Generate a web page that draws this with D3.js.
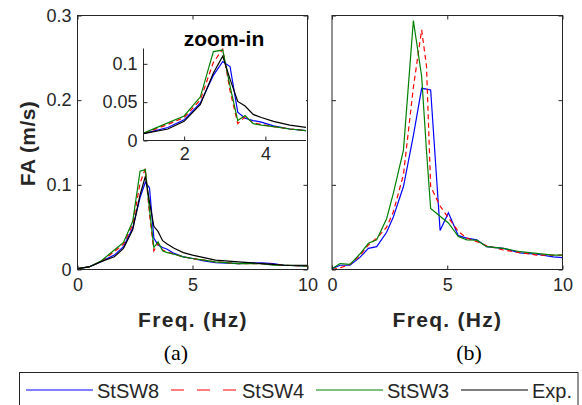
<!DOCTYPE html>
<html>
<head>
<meta charset="utf-8">
<script src="https://cdn.jsdelivr.net/npm/d3@7"></script>
<style>
  body { margin: 0; background: #fff; }
  svg { display: block; }
</style>
</head>
<body>
<div id="chart"></div>
<script>
// panel (a) data, frequency in Hz, FA in m/s
var freqA = [0, 0.5, 1, 1.6, 2, 2.4, 2.72, 2.95, 3.13, 3.32, 3.5, 3.7, 3.9, 4.2, 4.6, 5, 5.5, 6, 7, 8, 8.5, 9, 10];
var stsw8A = [0.001, 0.003, 0.009, 0.017, 0.027, 0.049, 0.085, 0.103, 0.0965, 0.037, 0.029, 0.026, 0.024, 0.019, 0.015, 0.013, 0.010, 0.008, 0.007, 0.008, 0.007, 0.005, 0.004];
var stsw4A = [0.001, 0.003, 0.009, 0.021, 0.030, 0.053, 0.102, 0.119, 0.065, 0.022, 0.031, 0.023, 0.021, 0.018, 0.015, 0.013, 0.011, 0.009, 0.007, 0.007, 0.006, 0.005, 0.004];
var stsw3A = [0.001, 0.003, 0.0096, 0.023, 0.032, 0.057, 0.116, 0.118, 0.071, 0.026, 0.0326, 0.022, 0.020, 0.018, 0.015, 0.013, 0.011, 0.009, 0.007, 0.007, 0.005, 0.005, 0.004];
var expA = [0.001, 0.003, 0.009, 0.015, 0.025, 0.047, 0.088, 0.110, 0.080, 0.051, 0.045, 0.034, 0.030, 0.025, 0.020, 0.017, 0.014, 0.011, 0.009, 0.007, 0.006, 0.005, 0.005];

// panel (b) data
var freqB = [0, 0.35, 0.78, 1.2, 1.58, 1.94, 2.37, 2.66, 3.1, 3.53, 3.89, 4.1, 4.28, 4.69, 5.05, 5.48, 5.85, 6.28, 6.71, 7.44, 8.16, 8.88, 9.6, 10];
var stsw8B = [0.001, 0.005, 0.005, 0.014, 0.025, 0.027, 0.044, 0.062, 0.098, 0.158, 0.214, 0.213, 0.212, 0.046, 0.067, 0.040, 0.037, 0.035, 0.027, 0.025, 0.0197, 0.018, 0.015, 0.014];
var stsw4B = [0, 0.002, 0.006, 0.016, 0.029, 0.037, 0.050, 0.068, 0.112, 0.215, 0.283, 0.240, 0.098, 0.075, 0.061, 0.045, 0.037, 0.033, 0.028, 0.023, 0.020, 0.017, 0.017, 0.017];
var stsw3B = [0.001, 0.007, 0.006, 0.018, 0.031, 0.035, 0.060, 0.090, 0.141, 0.294, 0.228, 0.140, 0.072, 0.063, 0.055, 0.039, 0.035, 0.0346, 0.027, 0.025, 0.021, 0.019, 0.017, 0.017];

var seriesNames = ["StSW8", "StSW4", "StSW3", "Exp."];
var seriesColors = ["#0000ff", "#ff0000", "#008000", "#000000"];
var seriesDash = [null, "5,3.5", null, null];

var xTicks = [0, 5, 10];
var yTicks = [0, 0.1, 0.2, 0.3];
var insetXTicks = [2, 4];
var insetYTicks = [0, 0.05, 0.1];

var width = 582, height = 405;
var axisColor = "#262626";
var sans = "'Liberation Sans', Arimo, Helvetica, sans-serif";

var svg = d3.select("#chart").append("svg")
    .attr("width", width)
    .attr("height", height)
    .attr("font-family", sans);

var defs = svg.append("defs");

function styleAxis(g, fontSize) {
    g.attr("font-family", sans);
    g.selectAll(".domain").remove();
    g.selectAll(".tick line").attr("stroke", axisColor);
    g.selectAll(".tick text").attr("fill", axisColor).attr("font-size", fontSize).attr("font-family", sans);
}

function drawPanel(id, left, right, top, bottom, xDomain, yDomain, data, opts) {
    var x = d3.scaleLinear().domain(xDomain).range([left, right]);
    var y = d3.scaleLinear().domain(yDomain).range([bottom, top]);

    var g = svg.append("g");

    if (opts.background) {
        g.append("rect").attr("x", left).attr("y", top)
            .attr("width", right - left).attr("height", bottom - top)
            .attr("fill", "#fff");
    }

    defs.append("clipPath").attr("id", "clip-" + id)
        .append("rect").attr("x", left).attr("y", top - 1)
        .attr("width", right - left).attr("height", bottom - top + 1);

    var line = d3.line().x(function(d) { return x(d[0]); }).y(function(d) { return y(d[1]); });

    var plot = g.append("g").attr("clip-path", "url(#clip-" + id + ")");
    data.forEach(function(s) {
        plot.append("path")
            .datum(s.freq.map(function(f, i) { return [f, s.values[i]]; }))
            .attr("d", line)
            .attr("fill", "none")
            .attr("stroke", seriesColors[s.idx])
            .attr("stroke-width", 1.2)
            .attr("stroke-dasharray", seriesDash[s.idx]);
    });

    var fmt = function(d) { return String(d); };
    var tk = 4;
    var bottomAxis = d3.axisBottom(x).tickValues(opts.xTicks).tickSize(-tk).tickSizeOuter(0).tickPadding(opts.xPad);
    bottomAxis.tickFormat(opts.xLabels ? fmt : "");
    var gx = g.append("g").attr("transform", "translate(0," + bottom + ")").call(bottomAxis);
    styleAxis(gx, 18);

    var leftAxis = d3.axisLeft(y).tickValues(opts.yTicks).tickSize(-tk).tickSizeOuter(0).tickPadding(6);
    leftAxis.tickFormat(opts.yLabels ? fmt : "");
    var gy = g.append("g").attr("transform", "translate(" + left + ",0)").call(leftAxis);
    styleAxis(gy, 18);

    if (opts.box) {
        var gt = g.append("g").attr("transform", "translate(0," + top + ")")
            .call(d3.axisTop(x).tickValues(opts.xTicks).tickSize(-tk).tickSizeOuter(0).tickFormat(""));
        styleAxis(gt, 18);
        var gr = g.append("g").attr("transform", "translate(" + right + ",0)")
            .call(d3.axisRight(y).tickValues(opts.yTicks).tickSize(-tk).tickSizeOuter(0).tickFormat(""));
        styleAxis(gr, 18);
        g.append("rect").attr("x", left).attr("y", top)
            .attr("width", right - left).attr("height", bottom - top)
            .attr("fill", "none").attr("stroke", axisColor).attr("stroke-width", 1);
    } else {
        g.append("path")
            .attr("d", "M" + left + "," + top + "V" + bottom + "H" + right)
            .attr("fill", "none").attr("stroke", axisColor).attr("stroke-width", 1);
    }
    return { x: x, y: y };
}

var dataA = [
    { idx: 0, freq: freqA, values: stsw8A },
    { idx: 1, freq: freqA, values: stsw4A },
    { idx: 2, freq: freqA, values: stsw3A },
    { idx: 3, freq: freqA, values: expA }
];
var dataB = [
    { idx: 0, freq: freqB, values: stsw8B },
    { idx: 1, freq: freqB, values: stsw4B },
    { idx: 2, freq: freqB, values: stsw3B }
];

// panel (a)
drawPanel("a", 77.5, 307.5, 15.5, 269.5, [0, 10], [0, 0.3], dataA,
    { xTicks: xTicks, yTicks: yTicks, xLabels: true, yLabels: true, box: true, xPad: 9 });

// inset of panel (a)
drawPanel("inset", 143.5, 306, 48.5, 140.5, [1, 5], [0, 0.12], dataA,
    { xTicks: insetXTicks, yTicks: insetYTicks, xLabels: true, yLabels: true, box: false, background: true, xPad: 7 });

svg.append("text")
    .attr("x", 224).attr("y", 46)
    .attr("text-anchor", "middle")
    .attr("font-family", sans)
    .attr("font-size", 21).attr("font-weight", "bold")
    .attr("fill", "#000")
    .text("zoom-in");

// panel (b)
drawPanel("b", 332, 562.5, 15.5, 269.5, [0, 10], [0, 0.3], dataB,
    { xTicks: xTicks, yTicks: yTicks, xLabels: true, yLabels: false, box: true, xPad: 9 });

// axis titles
svg.append("text")
    .attr("transform", "translate(35,143.5) rotate(-90)")
    .attr("text-anchor", "middle")
    .attr("font-family", sans)
    .attr("font-size", 21).attr("font-weight", "bold")
    .style("letter-spacing", "0.4px")
    .attr("fill", axisColor)
    .text("FA (m/s)");

var titleX = [193, 447.5];
titleX.forEach(function(tx) {
    svg.append("text")
        .attr("x", tx).attr("y", 326.5)
        .attr("text-anchor", "middle")
        .attr("font-family", sans)
        .attr("font-size", 21).attr("font-weight", "bold")
        .style("letter-spacing", "1.3px")
        .attr("fill", axisColor)
        .text("Freq. (Hz)");
});

var panelLabels = ["(a)", "(b)"];
var panelLabelX = [176, 469];
panelLabels.forEach(function(t, i) {
    svg.append("text")
        .attr("x", panelLabelX[i]).attr("y", 360)
        .attr("text-anchor", "middle")
        .attr("font-family", "'Liberation Serif', 'Times New Roman', serif")
        .attr("font-size", 22)
        .attr("fill", "#000")
        .text(t);
});

// legend
var legend = svg.append("g");
legend.append("rect")
    .attr("x", 19.5).attr("y", 372.5)
    .attr("width", 558.5).attr("height", 40)
    .attr("fill", "#fff").attr("stroke", axisColor).attr("stroke-width", 1);

var legX = d3.scalePoint().domain(seriesNames).range([26, 461]);
seriesNames.forEach(function(name, i) {
    var lx = legX(name);
    legend.append("line")
        .attr("x1", lx).attr("x2", lx + 67)
        .attr("y1", 390).attr("y2", 390)
        .attr("stroke", seriesColors[i])
        .attr("stroke-width", 1.1)
        .attr("stroke-dasharray", seriesDash[i] ? "13,13" : null);
    legend.append("text")
        .attr("x", lx + 71).attr("y", 398)
        .attr("font-family", sans)
        .attr("font-size", 20)
        .attr("fill", axisColor)
        .text(name);
});
</script>
</body>
</html>
